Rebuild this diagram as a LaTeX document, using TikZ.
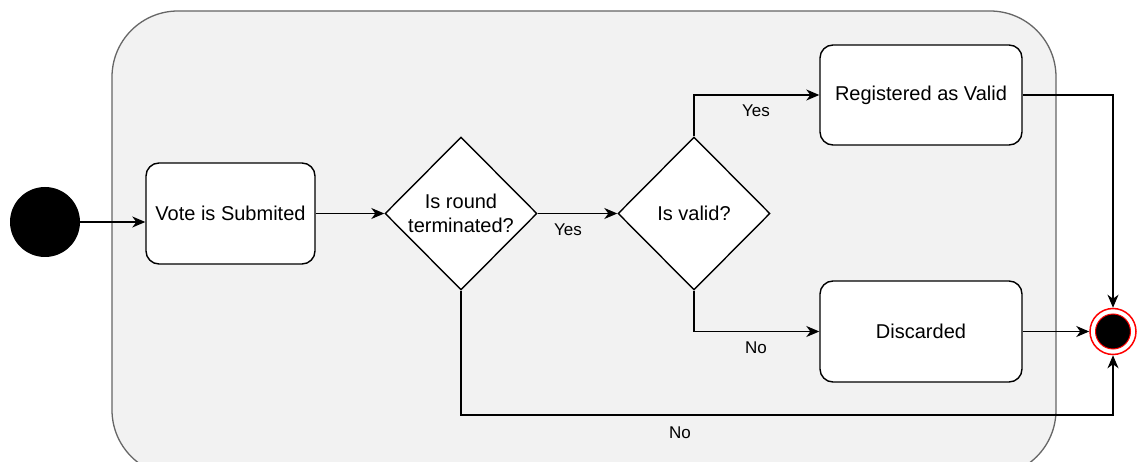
\documentclass[tikz,border=0pt]{standalone}
\usepackage{fontspec}
\setmainfont{Liberation Sans}
\usetikzlibrary{arrows.meta,shapes.geometric}
\begin{document}
\begin{tikzpicture}[x=1pt,y=-1pt,
  every node/.style={font=\fontsize{20}{24}\selectfont},
  stepbox/.style={draw,line width=1.4pt,rounded corners=13pt,fill=white,minimum width=169pt,minimum height=101pt,inner sep=0pt},
  choice/.style={draw,line width=1.4pt,diamond,fill=white,minimum width=152pt,minimum height=153pt,inner sep=0pt,align=center,aspect=1},
  flow/.style={line width=1.4pt,-{Stealth[length=13pt,width=11pt,inset=4pt]}},
  lbl/.style={font=\fontsize{17}{20}\selectfont,inner sep=0pt}]
\useasboundingbox (0,0) rectangle (1138,462);
\clip (0,0) rectangle (1138,462);
% container
\draw[draw=black!60,line width=1.3pt,fill=black!5,rounded corners=66pt] (112,11) rectangle (1056,476);
% nodes
\node[circle,fill=black,minimum size=70pt,inner sep=0pt] (start) at (45,222) {};
\node[stepbox] (vote) at (230.5,213.5) {Vote is Submited};
\node[choice] (round) at (461,213.5) {Is round\\terminated?};
\node[choice] (valid) at (694,213.5) {Is valid?};
\node[stepbox,minimum width=202pt,minimum height=100pt] (reg) at (921,95) {Registered as Valid};
\node[stepbox,minimum width=202pt,minimum height=101pt] (disc) at (921,331.5) {Discarded};
\node[circle,draw=red,line width=1.5pt,fill=white,minimum size=46pt,inner sep=0pt] (stop) at (1113,331.5) {};
\node[circle,draw=red,line width=1pt,fill=black,minimum size=35pt,inner sep=0pt] at (stop) {};
% connectors
\draw[flow] (start.east) -- (start -| vote.west);
\draw[flow] (vote.east |- round) -- (round.west);
\draw[flow] (round.east) -- (valid.west);
\draw[flow] (valid.north) |- (reg.west);
\draw[flow] (valid.south) |- (disc.west);
\draw[flow] (reg.east) -| (stop.north);
\draw[flow] (disc.east) -- (stop.west);
\coordinate (low) at (461,415);
\draw[flow] (round.south) -- (low) -| (stop.south);
% labels
\node[lbl] (y1) at (568,230) {Yes};
\node[lbl] (y2) at (756,111) {Yes};
\node[lbl] (n1) at (756,348) {No};
\node[lbl] (n2) at (680,433) {No};
\end{tikzpicture}
\end{document}
